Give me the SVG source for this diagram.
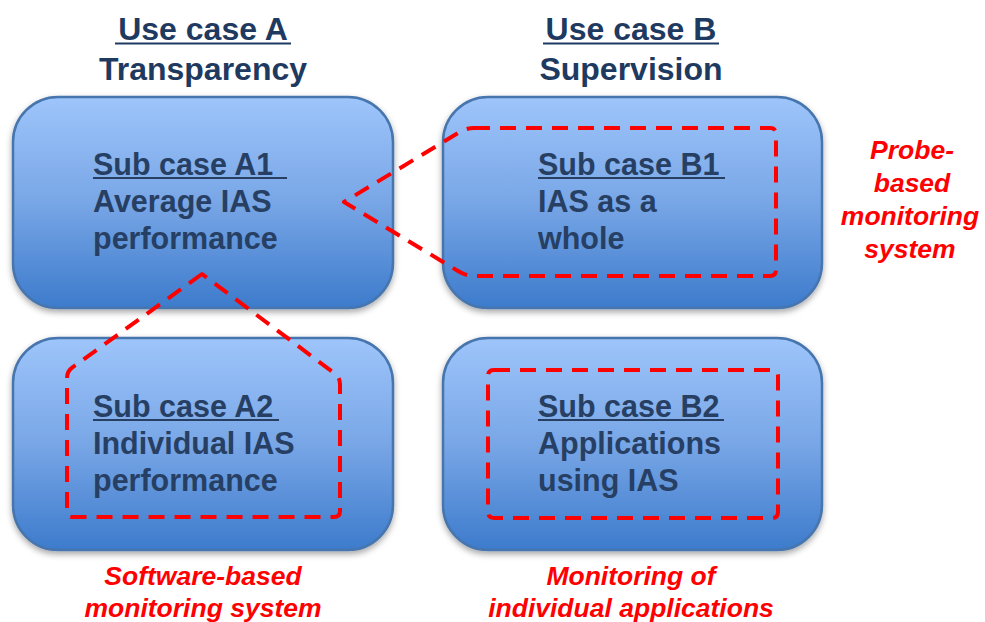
<svg xmlns="http://www.w3.org/2000/svg" width="985" height="622" viewBox="0 0 985 622">
<defs>
  <linearGradient id="boxGrad" x1="0" y1="0" x2="0" y2="1">
    <stop offset="0" stop-color="#9ec5fb"/>
    <stop offset="0.5" stop-color="#78a6e6"/>
    <stop offset="1" stop-color="#3d7bcc"/>
  </linearGradient>
  <filter id="shadow" x="-10%" y="-10%" width="120%" height="125%">
    <feDropShadow dx="0" dy="3" stdDeviation="3" flood-color="#000" flood-opacity="0.35"/>
  </filter>
</defs>
<style>
  .box { fill: url(#boxGrad); stroke: #4675ad; stroke-width: 2.5; filter: url(#shadow); }
  .title { font-family: "Liberation Sans", Arial, sans-serif; font-weight: bold; font-size: 32px; fill: #1f3a60; text-anchor: middle; }
  .body { font-family: "Liberation Sans", Arial, sans-serif; font-weight: bold; font-size: 30.5px; fill: #263f63; }
  .ul { stroke: #263f63; stroke-width: 2; }
  .tul { stroke: #1f3a60; stroke-width: 2.2; }
  .note { font-family: "Liberation Sans", Arial, sans-serif; font-weight: bold; font-style: italic; font-size: 26.5px; fill: #ff0000; text-anchor: middle; }
  .dash { fill: none; stroke: #ff0000; stroke-width: 4; stroke-dasharray: 16 10; stroke-linejoin: round; }
</style>

<g id="title-a">
  <text class="title" x="203" y="40">Use case A</text>
  <line class="tul" x1="115" y1="43.5" x2="291" y2="43.5"/>
  <text class="title" x="203" y="80">Transparency</text>
</g>
<g id="title-b">
  <text class="title" x="631" y="40">Use case B</text>
  <line class="tul" x1="543" y1="43.5" x2="719" y2="43.5"/>
  <text class="title" x="631" y="80">Supervision</text>
</g>

<g id="node-a1">
  <rect class="box" x="13" y="97" width="380" height="211" rx="45" ry="45"/>
  <text class="body" x="93" y="175">Sub case A1</text>
  <line class="ul" x1="93" y1="178" x2="287" y2="178"/>
  <text class="body" x="93" y="212">Average IAS</text>
  <text class="body" x="93" y="249">performance</text>
</g>
<g id="node-b1">
  <rect class="box" x="443" y="97" width="379" height="211" rx="45" ry="45"/>
  <text class="body" x="538" y="175">Sub case B1</text>
  <line class="ul" x1="538" y1="178" x2="725" y2="178"/>
  <text class="body" x="538" y="212">IAS as a</text>
  <text class="body" x="538" y="249">whole</text>
</g>
<g id="node-a2">
  <rect class="box" x="13" y="338" width="380" height="212" rx="45" ry="45"/>
  <text class="body" x="93" y="417">Sub case A2</text>
  <line class="ul" x1="93" y1="420" x2="279" y2="420"/>
  <text class="body" x="93" y="454">Individual IAS</text>
  <text class="body" x="93" y="491">performance</text>
</g>
<g id="node-b2">
  <rect class="box" x="443" y="338" width="379" height="212" rx="45" ry="45"/>
  <text class="body" x="538" y="417">Sub case B2</text>
  <line class="ul" x1="538" y1="420" x2="724" y2="420"/>
  <text class="body" x="538" y="454">Applications</text>
  <text class="body" x="538" y="491">using IAS</text>
</g>

<g id="connectors">
  <path class="dash" d="M 474,128 L 770,128 Q 776,128 776,134 L 776,270 Q 776,276 770,276 L 474,276 Q 466,276 458,271 L 344,202 L 458,133 Q 466,128 474,128 Z"/>
  <path class="dash" d="M 202,274 L 73,367 Q 67,371 67,378 L 67,511 Q 67,517 73,517 L 334,517 Q 340,517 340,511 L 340,384 Q 340,377 334,373 Z"/>
  <path class="dash" d="M 494,370 L 772,370 Q 778,370 778,376 L 778,512 Q 778,518 772,518 L 494,518 Q 488,518 488,512 L 488,376 Q 488,370 494,370 Z"/>
</g>

<g id="label-probe">
  <text class="note" x="912" y="159">Probe-</text>
  <text class="note" x="912" y="192">based</text>
  <text class="note" x="910" y="225">monitoring</text>
  <text class="note" x="910" y="258">system</text>
</g>
<g id="label-software">
  <text class="note" x="203" y="585">Software-based</text>
  <text class="note" x="203" y="617">monitoring system</text>
</g>
<g id="label-apps">
  <text class="note" x="631" y="585">Monitoring of</text>
  <text class="note" x="631" y="617">individual applications</text>
</g>
</svg>
